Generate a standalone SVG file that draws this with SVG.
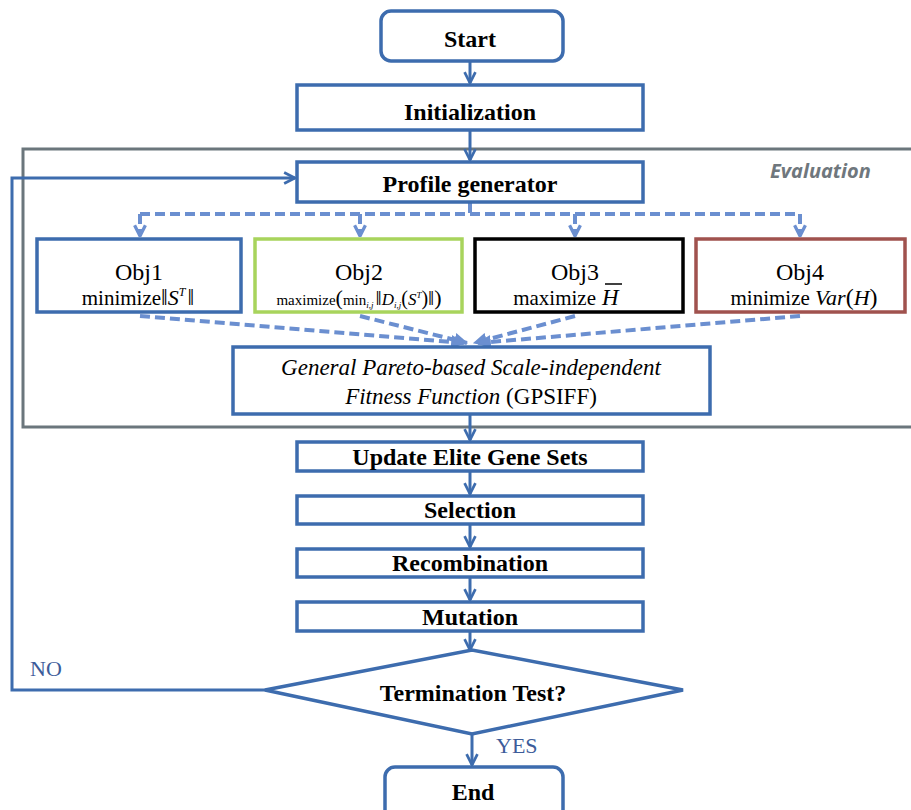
<svg xmlns="http://www.w3.org/2000/svg" width="911" height="810" viewBox="0 0 911 810">
<style>
.box{fill:#fff;stroke:#3d6cae;stroke-width:3.5}
.t{font-family:"Liberation Serif",serif;font-weight:bold;font-size:24px;fill:#000;text-anchor:middle}
.r{font-family:"Liberation Serif",serif;fill:#000;text-anchor:middle}
.conn{fill:none;stroke:#3d6cae;stroke-width:3}
.dash{fill:none;stroke:#6b8fd0;stroke-width:4;stroke-dasharray:10 5}
.lab{font-family:"Liberation Serif",serif;font-size:22px;fill:#3d5c9a}
</style>
<defs>
<marker id="a" viewBox="0 0 12 12" refX="11" refY="6" markerUnits="userSpaceOnUse" markerWidth="13" markerHeight="14" orient="auto">
<path d="M1,1 L11,6 L1,11" fill="none" stroke="#3d6cae" stroke-width="2.5"/>
</marker>
<marker id="ad" viewBox="0 0 12 12" refX="11" refY="6" markerUnits="userSpaceOnUse" markerWidth="13" markerHeight="14" orient="auto">
<path d="M1,1 L11,6 L1,11" fill="none" stroke="#6b8fd0" stroke-width="3"/>
</marker>
<marker id="af" viewBox="0 0 12 12" refX="11" refY="6" markerUnits="userSpaceOnUse" markerWidth="14" markerHeight="14" orient="auto">
<path d="M0,0 L12,6 L0,12 Z" fill="#6b8fd0"/>
</marker>
</defs>
<rect width="911" height="810" fill="#fff"/>

<g id="evaluation">
<path d="M 911,149 H 23 V 427 H 911" fill="none" stroke="#6b767c" stroke-width="3"/>
<text x="770" y="178" font-family="'Open Sans',sans-serif" font-style="italic" font-weight="bold" font-size="20" fill="#6f777d">Evaluation</text>
</g>

<g id="connectors">
<line class="conn" x1="470" y1="62" x2="470" y2="83" marker-end="url(#a)"/>
<line class="conn" x1="470" y1="131" x2="470" y2="160" marker-end="url(#a)"/>
<line class="conn" x1="470" y1="415" x2="470" y2="440" marker-end="url(#a)"/>
<line class="conn" x1="470" y1="472" x2="470" y2="494" marker-end="url(#a)"/>
<line class="conn" x1="470" y1="525" x2="470" y2="547" marker-end="url(#a)"/>
<line class="conn" x1="470" y1="578" x2="470" y2="600" marker-end="url(#a)"/>
<line class="conn" x1="470" y1="632" x2="470" y2="650" marker-end="url(#a)"/>
<line class="conn" x1="472" y1="735" x2="472" y2="765" marker-end="url(#a)"/>
<path class="conn" d="M 265,690 H 12 V 178 H 295" marker-end="url(#a)"/>
<path class="dash" d="M 470,203 V 214 M 140,214 H 800"/>
<line class="dash" x1="140" y1="214" x2="140" y2="236" marker-end="url(#ad)"/>
<line class="dash" x1="360" y1="214" x2="360" y2="236" marker-end="url(#ad)"/>
<line class="dash" x1="575" y1="214" x2="575" y2="236" marker-end="url(#ad)"/>
<line class="dash" x1="800" y1="214" x2="800" y2="236" marker-end="url(#ad)"/>
<line class="dash" x1="140" y1="316" x2="464" y2="343" marker-end="url(#af)"/>
<line class="dash" x1="360" y1="316" x2="467" y2="343" marker-end="url(#af)"/>
<line class="dash" x1="575" y1="316" x2="474" y2="343" marker-end="url(#af)"/>
<line class="dash" x1="800" y1="316" x2="478" y2="343" marker-end="url(#af)"/>
<text class="lab" x="30" y="676">NO</text>
<text class="lab" x="496" y="753">YES</text>
</g>

<g id="start">
<rect class="box" x="381" y="11" width="182" height="50" rx="10"/>
<text class="t" x="470" y="47">Start</text>
</g>
<g id="init">
<rect class="box" x="297" y="85" width="346" height="45"/>
<text class="t" x="470" y="120">Initialization</text>
</g>
<g id="profile">
<rect class="box" x="297" y="162" width="346" height="40"/>
<text class="t" x="470" y="192">Profile generator</text>
</g>

<g id="obj1">
<rect x="37" y="239" width="204" height="73" fill="#fff" stroke="#3d6cae" stroke-width="3.5"/>
<text class="r" x="139" y="280" font-size="24">Obj1</text>
<text class="r" x="138" y="305" font-size="21">minimize<tspan font-size="24">‖</tspan><tspan font-style="italic" font-size="22">S</tspan><tspan font-style="italic" font-size="12" dy="-9">T</tspan><tspan font-size="24" dy="9" dx="2">‖</tspan></text>
</g>
<g id="obj2">
<rect x="255" y="239" width="207" height="73" fill="#fff" stroke="#a8d45c" stroke-width="3.5"/>
<text class="r" x="359" y="280" font-size="24">Obj2</text>
<text class="r" x="359" y="305" font-size="15">maximize<tspan font-size="22">(</tspan>min<tspan font-style="italic" font-size="9" dy="3">i,j</tspan><tspan font-size="22" dy="-3" dx="2">‖</tspan><tspan font-style="italic" font-size="17">D</tspan><tspan font-style="italic" font-size="9" dy="3">i,j</tspan><tspan font-size="20" dy="-3">(</tspan><tspan font-style="italic" font-size="17">S</tspan><tspan font-style="italic" font-size="9" dy="-7">T</tspan><tspan font-size="20" dy="7">)</tspan><tspan font-size="22">‖</tspan><tspan font-size="22">)</tspan></text>
</g>
<g id="obj3">
<rect x="475" y="239" width="208" height="73" fill="#fff" stroke="#000" stroke-width="3.5"/>
<text class="r" x="575" y="280" font-size="24">Obj3</text>
<text x="596" y="305" font-family="'Liberation Serif',serif" font-size="21" text-anchor="end">maximize</text>
<text x="602" y="305" font-family="'Liberation Serif',serif" font-size="23" font-style="italic">H</text>
<line x1="605" y1="284" x2="622" y2="284" stroke="#000" stroke-width="1.5"/>
</g>
<g id="obj4">
<rect x="696" y="239" width="209" height="73" fill="#fff" stroke="#a0524e" stroke-width="3.5"/>
<text class="r" x="800" y="280" font-size="24">Obj4</text>
<text class="r" x="804" y="305" font-size="21">minimize <tspan font-style="italic" font-size="22">Var</tspan><tspan font-size="24">(</tspan><tspan font-style="italic" font-size="22">H</tspan><tspan font-size="24">)</tspan></text>
</g>

<g id="gpsiff">
<rect class="box" x="233" y="347" width="477" height="67"/>
<text class="r" x="471" y="375" font-size="23" font-style="italic">General Pareto-based Scale-independent</text>
<text class="r" x="471" y="404" font-size="23"><tspan font-style="italic">Fitness Function </tspan>(GPSIFF)</text>
</g>

<g id="update">
<rect class="box" x="297" y="442" width="346" height="29"/>
<text class="t" x="470" y="465">Update Elite Gene Sets</text>
</g>
<g id="selection">
<rect class="box" x="297" y="496" width="346" height="28"/>
<text class="t" x="470" y="518">Selection</text>
</g>
<g id="recombination">
<rect class="box" x="297" y="549" width="346" height="28"/>
<text class="t" x="470" y="571">Recombination</text>
</g>
<g id="mutation">
<rect class="box" x="297" y="602" width="346" height="29"/>
<text class="t" x="470" y="625">Mutation</text>
</g>
<g id="termination">
<polygon points="265,690 472,650 683,690 472,734" fill="#fff" stroke="#3d6cae" stroke-width="3.5"/>
<text class="t" x="473" y="701">Termination Test?</text>
</g>
<g id="end">
<rect class="box" x="385" y="767" width="178" height="60" rx="10"/>
<text class="t" x="473" y="800">End</text>
</g>
</svg>
